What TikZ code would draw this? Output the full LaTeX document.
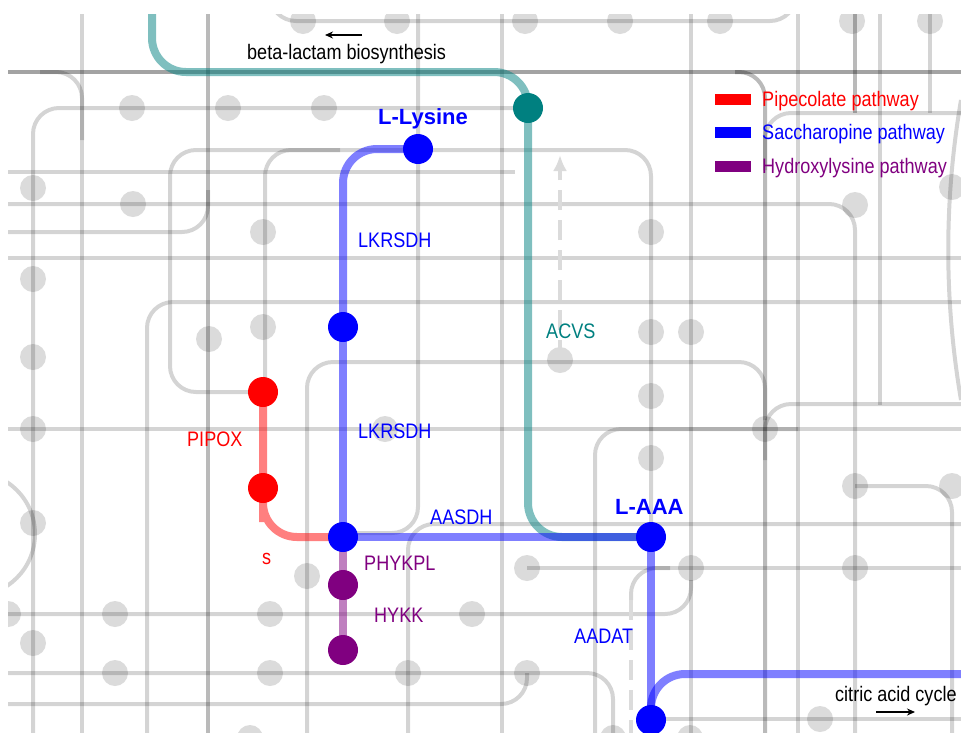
\documentclass[tikz,border=0pt]{standalone}
\usepackage{fontspec}
\setmainfont{Liberation Sans}
\newfontfamily\labelfont[FakeStretch=0.86]{Liberation Sans}
\usetikzlibrary{arrows.meta}
\definecolor{sacblue}{RGB}{0,0,255}
\definecolor{pipred}{RGB}{255,0,0}
\definecolor{hylpurple}{RGB}{128,0,128}
\definecolor{acvteal}{RGB}{0,128,128}
\pgfdeclarelayer{grid}
\pgfdeclarelayer{route}
\pgfsetlayers{grid,route,main}

\begin{document}
\begin{tikzpicture}[x=1pt,y=-1pt,
  bgline/.style={line width=4pt,draw=black,draw opacity=0.17,rounded corners=26pt},
  bgmid/.style={bgline,draw opacity=0.27},
  bgdark/.style={bgline,draw opacity=0.36},
  bgdot/.style={fill=black,fill opacity=0.14},
  dashgray/.style={line width=4pt,draw=black!14,dash pattern=on 20pt off 10pt},
  met/.style={shape=circle,minimum size=30pt,inner sep=0pt},
  route/.style={line width=8pt,draw opacity=0.5,rounded corners=34pt},
  enz/.style={font=\labelfont\fontsize{21}{25}\selectfont,inner sep=0pt,anchor=base west},
  cpd/.style={font=\bfseries\fontsize{22}{26}\selectfont,text=sacblue,inner sep=0pt,anchor=base west},
  legkey/.style={minimum width=36pt,minimum height=11pt,inner sep=0pt},
]
\useasboundingbox (0,0) rectangle (961,732);

% the grey map behind
\begin{pgfonlayer}{grid}
\begin{scope}
\clip (8,14) rectangle (961,732);
\draw[bgdark] (0,72) -- (970,72);
\draw[bgline] (40,72) -| (82,140);
\draw[bgline] (82,0) -- (82,740);
\draw[bgmid] (208,0) -- (208,740);
\draw[bgline] (0,232) -| (208,190);
\draw[bgline] (502,0) -- (502,740);
\draw[bgline] (691,0) -- (691,740);
\draw[bgline] (798,0) -- (798,740);
\draw[bgline] (880,0) -- (880,405);
\draw[bgline] (930,0) -- (930,113);
\draw[bgmid] (855,0) -- (855,113);
\draw[bgmid] (735,72) -| (765,740);
\draw[bgline] (765,170) |- (970,113);
\draw[bgline] (765,460) |- (970,404);
\draw[bgline] (270,0) |- (796,21) -- (796,0);
\draw[bgline] (515,108) -| (33,740);
\draw[bgline] (0,172) -- (515,172);
\draw[bgline] (0,204) -| (855,740);
\draw[bgline] (0,258) -- (970,258);
\draw[bgline] (147,740) |- (970,302);
\draw[bgline] (263,392) -| (170,150) -| (651,537);
\draw[bgline] (265,392) |- (340,150);
\draw[bgline] (307,740) |- (765,362) -- (765,420);
\draw[bgline] (0,429) -- (970,429);
\draw[bgline] (595,740) |- (798,429);
\draw[bgline] (343,533) -| (418,0);
\draw[bgline] (408,740) |- (970,524);
\draw[bgline] (855,486) -| (952,740);
\draw[bgline] (527,568) -- (970,568);
\draw[bgline] (631,600) |- (670,568);
\draw[bgline] (0,614) -| (691,580);
\draw[bgline] (0,673) -| (613,740);
\draw[bgline] (0,704) -| (527,673);
\draw[bgline] (660,719) -- (970,719);
\draw[bgline] (-27,534) circle (62pt);
\draw[bgline] (961,100) .. controls (944,200) and (944,300) .. (961,400);
\foreach \x/\y in {303/21,397/21,525/21,620/21,720/21,852/21,930/21,
  132/108,228/108,324/108,33/188,133/204,263/232,33/279,263/327,209/339,
  33/357,560/360,855/205,651/232,651/332,691/332,952/187,33/429,385/429,
  33/523,8/614,115/614,270/614,472/614,307/576,33/643,115/673,270/673,
  408/673,527/673,651/396,651/458,765/429,855/486,952/486,527/568,
  691/568,855/568,820/719,250/738,613/738,690/738}
  \fill[bgdot] (\x,\y) circle (13pt);
\draw[dashgray] (631,600) -- (631,740);
\draw[dashgray,-{Latex[length=16pt,width=14pt]}] (560,360) -- (560,155);
\end{scope}
\end{pgfonlayer}

% metabolites
\node (acv) at (528,108) [met,fill=acvteal] {};
\node (lys) at (418,149) [met,fill=sacblue] {};
\node (sacc) at (343,327) [met,fill=sacblue] {};
\node (aasa) at (343,537) [met,fill=sacblue] {};
\node (laaa) at (651,537) [met,fill=sacblue] {};
\node (oxo) at (651,720) [met,fill=sacblue] {};
\node (pip) at (263,392) [met,fill=pipred] {};
\node (pcx) at (263,488) [met,fill=pipred] {};
\node (phyk) at (343,585) [met,fill=hylpurple] {};
\node (hyl) at (343,650) [met,fill=hylpurple] {};
\coordinate (blac) at (152,14);
\coordinate (tca) at (961,674);

% pathways
\begin{pgfonlayer}{route}
\draw[route,acvteal] (laaa.center) -| (acv.center);
\draw[route,acvteal] (acv.center) -- ++(0,-36) -| (blac);
\draw[route,sacblue] (lys.center) -| (sacc.center);
\draw[route,sacblue,sharp corners] (sacc.center) -- (aasa.center) -- (laaa.center) -- (oxo.center);
\draw[route,sacblue] (oxo.center) |- (tca);
\draw[route,pipred] (pip.center) -- (pcx.center) |- (aasa.center);
\draw[route,hylpurple] (aasa.center) -- (phyk.center) -- (hyl.center);
\end{pgfonlayer}

% labels
\node (tlys) at (378,124) [cpd] {L-Lysine};
\node (tlaaa) at (615,514) [cpd] {L-AAA};
\node (tlk1) at (358,247) [enz,text=sacblue] {LKRSDH};
\node (tlk2) at (358,438) [enz,text=sacblue] {LKRSDH};
\node (taas) at (430,524) [enz,text=sacblue] {AASDH};
\node (taad) at (574,643) [enz,text=sacblue] {AADAT};
\node (tacv) at (546,338) [enz,text=acvteal] {ACVS};
\node (tpox) at (187,446) [enz,text=pipred] {PIPOX};
\node (ts) at (262,564) [enz,text=pipred] {s};
\node (tphy) at (364,570) [enz,text=hylpurple] {PHYKPL};
\node (thyk) at (374,622) [enz,text=hylpurple] {HYKK};
\node (tbl) at (247,59) [enz] {beta-lactam biosynthesis};
\node (ttca) at (835,701) [enz] {citric acid cycle};
\coordinate (bl1) at (362,35);
\coordinate (bl2) at (325,35);
\draw[-{Stealth[length=8pt,width=7pt]},line width=1.6pt] (bl1) -- (bl2);
\coordinate (tc1) at (876,712);
\coordinate (tc2) at (915,712);
\draw[-{Stealth[length=8pt,width=7pt]},line width=1.6pt] (tc1) -- (tc2);

% legend
\node (kpip) at (733,99) [legkey,fill=pipred] {};
\node (ksac) at (733,132) [legkey,fill=sacblue] {};
\node (khyl) at (733,166) [legkey,fill=hylpurple] {};
\node (tpip) at (762,106) [enz,text=pipred] {Pipecolate pathway};
\node (tsac) at (762,139) [enz,text=sacblue] {Saccharopine pathway};
\node (thyl) at (762,173) [enz,text=hylpurple] {Hydroxylysine pathway};
\end{tikzpicture}
\end{document}
